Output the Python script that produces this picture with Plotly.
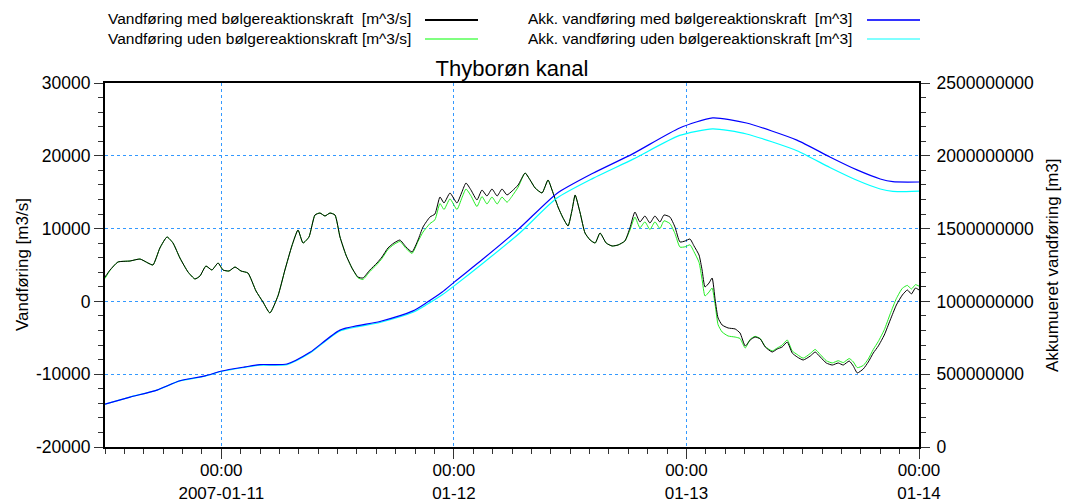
import plotly.graph_objects as go

# ---------------- data ----------------
flow_time = [
    "2007-01-10 12:00", "2007-01-10 12:31", "2007-01-10 13:20", "2007-01-10 14:35", "2007-01-10 15:37",
    "2007-01-10 16:26", "2007-01-10 16:57", "2007-01-10 17:40", "2007-01-10 18:24", "2007-01-10 19:01",
    "2007-01-10 19:44", "2007-01-10 20:34", "2007-01-10 21:17", "2007-01-10 21:48", "2007-01-10 22:25",
    "2007-01-10 23:02", "2007-01-10 23:40", "2007-01-11 00:11", "2007-01-11 00:48", "2007-01-11 01:25",
    "2007-01-11 02:02", "2007-01-11 02:45", "2007-01-11 03:35", "2007-01-11 04:18", "2007-01-11 05:01",
    "2007-01-11 05:51", "2007-01-11 06:34", "2007-01-11 07:17", "2007-01-11 07:55", "2007-01-11 08:26",
    "2007-01-11 09:03", "2007-01-11 09:40", "2007-01-11 10:11", "2007-01-11 10:42", "2007-01-11 11:13",
    "2007-01-11 11:44", "2007-01-11 12:15", "2007-01-11 12:52", "2007-01-11 13:29", "2007-01-11 14:06",
    "2007-01-11 14:37", "2007-01-11 15:20", "2007-01-11 16:04", "2007-01-11 16:35", "2007-01-11 17:12",
    "2007-01-11 17:49", "2007-01-11 18:26", "2007-01-11 19:04", "2007-01-11 19:41", "2007-01-11 20:18",
    "2007-01-11 20:49", "2007-01-11 21:32", "2007-01-11 22:03", "2007-01-11 22:34", "2007-01-11 22:59",
    "2007-01-11 23:36", "2007-01-12 00:19", "2007-01-12 00:50", "2007-01-12 01:15", "2007-01-12 01:46",
    "2007-01-12 02:23", "2007-01-12 02:54", "2007-01-12 03:25", "2007-01-12 03:56", "2007-01-12 04:28",
    "2007-01-12 04:58", "2007-01-12 05:29", "2007-01-12 06:01", "2007-01-12 06:38", "2007-01-12 07:21",
    "2007-01-12 07:52", "2007-01-12 08:23", "2007-01-12 09:06", "2007-01-12 09:43", "2007-01-12 10:08",
    "2007-01-12 10:45", "2007-01-12 11:16", "2007-01-12 11:47", "2007-01-12 12:12", "2007-01-12 12:31",
    "2007-01-12 13:02", "2007-01-12 13:32", "2007-01-12 14:04", "2007-01-12 14:35", "2007-01-12 15:05",
    "2007-01-12 15:43", "2007-01-12 16:20", "2007-01-12 16:57", "2007-01-12 17:39", "2007-01-12 18:10",
    "2007-01-12 18:41", "2007-01-12 19:12", "2007-01-12 19:43", "2007-01-12 20:14", "2007-01-12 20:45",
    "2007-01-12 21:16", "2007-01-12 21:41", "2007-01-12 22:18", "2007-01-12 22:49", "2007-01-12 23:20",
    "2007-01-12 23:52", "2007-01-13 00:22", "2007-01-13 00:47", "2007-01-13 01:18", "2007-01-13 01:37",
    "2007-01-13 01:55", "2007-01-13 02:20", "2007-01-13 02:39", "2007-01-13 02:58", "2007-01-13 03:16",
    "2007-01-13 03:41", "2007-01-13 04:18", "2007-01-13 05:02", "2007-01-13 05:32", "2007-01-13 06:04",
    "2007-01-13 06:35", "2007-01-13 07:05", "2007-01-13 07:37", "2007-01-13 08:08", "2007-01-13 08:51",
    "2007-01-13 09:22", "2007-01-13 09:53", "2007-01-13 10:24", "2007-01-13 10:55", "2007-01-13 11:26",
    "2007-01-13 12:03", "2007-01-13 12:47", "2007-01-13 13:17", "2007-01-13 13:49", "2007-01-13 14:26",
    "2007-01-13 15:03", "2007-01-13 15:40", "2007-01-13 16:11", "2007-01-13 16:48", "2007-01-13 17:13",
    "2007-01-13 17:38", "2007-01-13 18:15", "2007-01-13 18:46", "2007-01-13 19:17", "2007-01-13 19:48",
    "2007-01-13 20:25", "2007-01-13 21:02", "2007-01-13 21:40", "2007-01-13 22:17", "2007-01-13 22:48",
    "2007-01-13 23:13", "2007-01-13 23:38", "2007-01-14 00:00",
]

flow_med = [
    3350, 4310, 5410, 5550, 5820,
    5275, 5000, 7340, 8850, 8020,
    5960, 4040, 3080, 3490, 4860,
    4310, 5275, 4310, 4175, 4725,
    4175, 3900, 1430, -80, -1590,
    760, 4310, 7610, 9810, 8020,
    8850, 11870, 12140, 11730, 12140,
    11870, 8850, 6370, 4590, 3350,
    3215, 4310, 5275, 6100, 7340,
    8020, 8430, 7470, 6790, 8430,
    10220, 11590, 12010, 14340, 13520,
    14890, 13520, 15030, 16260, 15300,
    13930, 15300, 14480, 15440, 14480,
    15440, 14620, 15170, 15990, 17640,
    16680, 15580, 14890, 16680, 15300,
    12970, 11460, 10360, 12560, 14620,
    12140, 9400, 8430, 8020, 9400,
    8020, 7610, 7750, 8300, 10080,
    12280, 10910, 11730, 10770, 11730,
    10910, 11870, 11590, 10220, 8160,
    8300, 8570, 7610, 6370, 4310,
    1980, 2530, 3215, 190, -2280,
    -3240, -3650, -3790, -4340, -6130,
    -5300, -4890, -5160, -6260, -6950,
    -6540, -6260, -5580, -7090, -7640,
    -8050, -7500, -6950, -7640, -8460,
    -8740, -8460, -8740, -8190, -8870,
    -9830, -9280, -8320, -7090, -6130,
    -4620, -2550, -490, 880, 1570,
    1020, 1840, 1570,
]

flow_uden = [
    3150, 4250, 5410, 5550, 5820,
    5275, 5000, 7340, 8850, 8020,
    5960, 4040, 3080, 3490, 4860,
    4310, 5275, 4310, 4175, 4725,
    4175, 3900, 1430, -80, -1590,
    760, 4310, 7610, 9810, 8020,
    8850, 11870, 12140, 11730, 12140,
    11870, 8850, 6370, 4590, 3250,
    3015, 4110, 5075, 5900, 7140,
    7820, 8230, 7270, 6590, 8230,
    9520, 10690, 11210, 13440, 12620,
    14090, 12620, 14230, 15440, 14500,
    13030, 14400, 13380, 14340, 13380,
    14340, 13620, 14470, 15690, 17640,
    16680, 15580, 14890, 16680, 15300,
    12970, 11460, 10360, 12560, 14620,
    12140, 9400, 8430, 8020, 9400,
    8020, 7610, 7750, 8300, 9780,
    11580, 10110, 10930, 9870, 10930,
    10010, 11070, 10690, 9320, 7460,
    7500, 7770, 6810, 5370, 3010,
    740, 1290, 1840, -490, -3200,
    -4200, -4750, -4900, -5100, -6400,
    -5200, -4800, -5100, -6200, -6800,
    -6400, -6000, -5300, -6800, -7300,
    -7800, -7150, -6600, -7300, -8150,
    -8450, -8150, -8400, -7850, -8300,
    -9100, -8800, -7900, -6600, -5500,
    -3900, -1700, 400, 1800, 2200,
    1700, 2300, 2100,
]

acc_time = [
    "2007-01-10 12:00", "2007-01-10 14:35", "2007-01-10 17:22", "2007-01-10 19:44", "2007-01-10 22:19",
    "2007-01-11 00:04", "2007-01-11 02:27", "2007-01-11 03:59", "2007-01-11 06:47", "2007-01-11 09:09",
    "2007-01-11 12:15", "2007-01-11 16:22", "2007-01-11 19:47", "2007-01-11 21:12", "2007-01-11 22:48",
    "2007-01-12 00:06", "2007-01-12 03:00", "2007-01-12 06:48", "2007-01-12 10:36", "2007-01-12 14:21",
    "2007-01-12 18:30", "2007-01-12 23:18", "2007-01-13 02:42", "2007-01-13 06:12", "2007-01-13 11:24",
    "2007-01-13 14:48", "2007-01-13 17:36", "2007-01-13 20:00", "2007-01-13 21:18", "2007-01-14 00:00",
]

# millions of m^3
acc_med_mio = [
    295, 343, 391, 455, 488, 522, 550, 566, 570, 650,
    803, 862, 935, 992, 1064, 1136, 1291, 1504, 1740, 1880,
    2015, 2191, 2260, 2225, 2108, 1992, 1903, 1841, 1822, 1820,
]
acc_uden_mio = [
    295, 343, 391, 454, 486, 520, 547, 562, 566, 645,
    797, 855, 925, 978, 1045, 1110, 1262, 1470, 1708, 1845,
    1977, 2140, 2185, 2150, 2035, 1920, 1832, 1772, 1755, 1758,
]

series_names = [
    "Vandføring med bølgereaktionskraft  [m^3/s]",
    "Vandføring uden bølgereaktionskraft [m^3/s]",
    "Akk. vandføring med bølgereaktionskraft  [m^3]",
    "Akk. vandføring uden bølgereaktionskraft [m^3]",
]
series_colors = ["#000000", "#22ee22", "#0000ff", "#00ffff"]
legend_colors = ["#000000", "#80ff80", "#3333ff", "#80ffff"]

x_tick_vals = ["2007-01-11", "2007-01-12", "2007-01-13", "2007-01-14"]
x_tick_text = ["00:00<br>2007-01-11", "00:00<br>01-12", "00:00<br>01-13", "00:00<br>01-14"]
y1_tick_vals = [-20000, -10000, 0, 10000, 20000, 30000]
y1_tick_text = ["-20000", "-10000", "0", "10000", "20000", "30000"]
y2_tick_vals = [0, 5e8, 1e9, 1.5e9, 2e9, 2.5e9]
y2_tick_text = ["0", "500000000", "1000000000", "1500000000", "2000000000", "2500000000"]

title_text = "Thyborøn kanal"
y1_title = "Vandføring [m3/s]"
y2_title = "Akkumueret vandføring [m3]"

# ---------------- figure ----------------
FONT = "Liberation Sans, Arial, sans-serif"
TICK_SIZE = 17.5
fig = go.Figure()

acc_med = [v * 1e6 for v in acc_med_mio]
acc_uden = [v * 1e6 for v in acc_uden_mio]

fig.add_trace(go.Scatter(x=flow_time, y=flow_uden, mode="lines", name=series_names[1],
                         line=dict(color=series_colors[1], width=1, shape="spline", smoothing=0.5),
                         showlegend=False))
fig.add_trace(go.Scatter(x=flow_time, y=flow_med, mode="lines", name=series_names[0],
                         line=dict(color=series_colors[0], width=1, shape="spline", smoothing=0.5),
                         showlegend=False))
fig.add_trace(go.Scatter(x=acc_time, y=acc_uden, mode="lines", name=series_names[3], yaxis="y2",
                         line=dict(color=series_colors[3], width=1.2, shape="spline", smoothing=0.6),
                         showlegend=False))
fig.add_trace(go.Scatter(x=acc_time, y=acc_med, mode="lines", name=series_names[2], yaxis="y2",
                         line=dict(color=series_colors[2], width=1.2, shape="spline", smoothing=0.6),
                         showlegend=False))

W, H = 1065, 501
L, R, T, B = 105, 146, 83, 54
pw, ph = W - L - R, H - T - B


def px_to_paper_x(px):
    return (px - L) / pw


def px_to_paper_y(py):
    return (H - B - py) / ph


grid_color = "#3399ff"
tick_color = "#333333"

fig.update_layout(
    width=W, height=H,
    margin=dict(l=L, r=R, t=T, b=B, autoexpand=False),
    paper_bgcolor="white", plot_bgcolor="white",
    font=dict(family=FONT, size=17, color="black"),
    title=dict(text=title_text, x=0.5, xref="paper", xanchor="center",
               y=1 - 68 / H, yref="container", yanchor="middle",
               font=dict(family=FONT, size=22, color="black")),
    showlegend=False,
    xaxis=dict(
        type="date", automargin=False,
        range=["2007-01-10 12:00", "2007-01-14 00:00"],
        tickmode="array", tickvals=x_tick_vals, ticktext=x_tick_text,
        ticks="outside", ticklen=10, tickwidth=1, tickcolor=tick_color,
        ticklabelstandoff=-3,
        showline=True, linewidth=2, linecolor="black", mirror=True,
        showgrid=True, gridcolor=grid_color, griddash="dot", gridwidth=1,
        zeroline=False,
        tickfont=dict(family=FONT, size=17),
        minor=dict(tickmode="linear", tick0="2007-01-10 00:00", dtick=2 * 3600 * 1000,
                   ticks="outside", ticklen=5, tickcolor=tick_color, showgrid=False),
    ),
    yaxis=dict(
        automargin=False,
        range=[-20000, 30000], tickmode="array", tickvals=y1_tick_vals, ticktext=y1_tick_text,
        ticks="outside", ticklen=9, tickwidth=1, tickcolor=tick_color,
        showline=True, linewidth=2, linecolor="black",
        showgrid=True, gridcolor=grid_color, griddash="dot", gridwidth=1,
        zeroline=False,
        tickfont=dict(family=FONT, size=TICK_SIZE),
        minor=dict(tickmode="linear", tick0=0, dtick=2000, ticks="outside",
                   ticklen=5, tickcolor=tick_color, showgrid=False),
    ),
    yaxis2=dict(
        automargin=False,
        overlaying="y", side="right",
        range=[0, 2.5e9], tickmode="array", tickvals=y2_tick_vals, ticktext=y2_tick_text,
        ticks="outside", ticklen=9, tickwidth=1, tickcolor=tick_color,
        ticklabelstandoff=3,
        showline=True, linewidth=2, linecolor="black",
        showgrid=False, zeroline=False,
        tickfont=dict(family=FONT, size=TICK_SIZE),
        minor=dict(tickmode="linear", tick0=0, dtick=1e8, ticks="outside",
                   ticklen=5, tickcolor=tick_color, showgrid=False),
    ),
)

annotations = [
    dict(text=y1_title, x=px_to_paper_x(22), y=0.5, xref="paper", yref="paper",
         textangle=-90, showarrow=False, xanchor="center", yanchor="middle",
         font=dict(family=FONT, size=17)),
    dict(text=y2_title, x=px_to_paper_x(1052), y=0.5, xref="paper", yref="paper",
         textangle=-90, showarrow=False, xanchor="center", yanchor="middle",
         font=dict(family=FONT, size=17)),
]

# custom legend (text left, line sample right)
legend_text_x = [107, 107, 527, 527]
legend_row_y = [19, 38, 19, 38]
legend_line_x = [(425, 478), (425, 478), (867, 920), (867, 920)]
shapes = []
for i, name in enumerate(series_names):
    annotations.append(dict(text=name, x=px_to_paper_x(legend_text_x[i]), y=px_to_paper_y(legend_row_y[i]),
                            xref="paper", yref="paper", showarrow=False,
                            xanchor="left", yanchor="middle", borderpad=0,
                            font=dict(family=FONT, size=15.5, color="black")))
    x0, x1 = legend_line_x[i]
    ly = px_to_paper_y(legend_row_y[i] + 1)
    shapes.append(dict(type="line", xref="paper", yref="paper",
                       x0=px_to_paper_x(x0), x1=px_to_paper_x(x1), y0=ly, y1=ly,
                       line=dict(color=legend_colors[i], width=2)))

fig.update_layout(annotations=annotations, shapes=shapes)

fig.write_html(
    "out.html",
    config={"displayModeBar": False},
    post_script="document.body.style.margin='0';document.body.style.overflow='hidden';",
)
